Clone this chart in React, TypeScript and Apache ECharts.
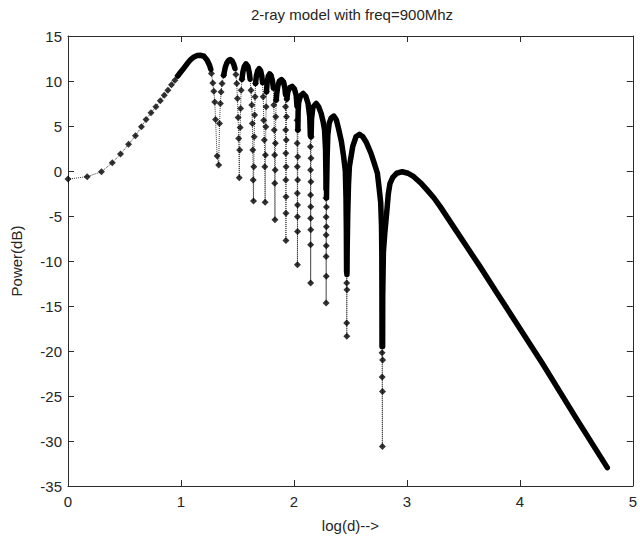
import React, { useEffect, useRef } from "react";
import * as echarts from "echarts";

// ---- data (x = log10(d), y = power in dB) ----
const xTickValues = [0, 1, 2, 3, 4, 5];
const yTickValues = [-35, -30, -25, -20, -15, -10, -5, 0, 5, 10, 15];

const titleText = "2-ray model with freq=900Mhz";
const xAxisTitle = "log(d)-->";
const yAxisTitle = "Power(dB)";

// individual markers on the initial rise
const riseMarks = [
  [0, -0.9], [0.17, -0.63], [0.296, -0.08], [0.392, 0.92], [0.465, 1.88], [0.536, 2.96],
  [0.597, 3.91], [0.65, 4.91], [0.691, 5.73], [0.735, 6.46], [0.778, 7.13], [0.817, 7.8],
  [0.852, 8.43], [0.884, 8.98], [0.916, 9.57], [0.946, 10.09], [0.972, 10.57],
];

// lobe tops where the markers merge into a solid trace
const lobeArcs = [
  [[0.972, 10.57], [0.998, 11.0], [1.027, 11.45], [1.056, 11.94], [1.086, 12.38], [1.115, 12.67], [1.144, 12.83], [1.174, 12.86], [1.203, 12.75], [1.232, 12.31], [1.253, 11.75], [1.264, 11.3]],
  [[1.378, 10.64], [1.393, 11.56], [1.408, 12.05], [1.422, 12.3], [1.437, 12.38], [1.452, 12.25], [1.466, 11.9], [1.478, 11.39]],
  [[1.54, 10.2], [1.548, 11.0], [1.56, 11.6], [1.576, 11.9], [1.592, 11.65], [1.604, 11.0], [1.612, 10.2]],
  [[1.66, 9.72], [1.668, 10.6], [1.679, 11.15], [1.692, 11.36], [1.705, 11.15], [1.715, 10.6], [1.722, 9.8]],
  [[1.757, 8.8], [1.763, 9.9], [1.773, 10.55], [1.785, 10.8], [1.798, 10.6], [1.81, 10.0], [1.818, 9.2]],
  [[1.843, 7.9], [1.848, 8.6], [1.858, 9.5], [1.872, 10.0], [1.89, 10.15], [1.908, 9.9], [1.92, 9.2], [1.925, 8.5]],
  [[1.937, 8.0], [1.946, 8.8], [1.962, 9.25], [1.984, 9.4], [2.005, 9.1], [2.02, 8.4], [2.027, 7.2]],
  [[2.035, 4.55], [2.037, 6.6], [2.042, 7.6], [2.058, 8.35], [2.081, 8.61], [2.105, 8.3], [2.125, 7.5], [2.14, 6.0], [2.145, 4.0]],
  [[2.152, 3.8], [2.156, 5.8], [2.168, 7.1], [2.198, 7.5], [2.22, 7.1], [2.241, 6.4], [2.258, 5.5], [2.271, 4.55], [2.28, 2.33], [2.283, -0.5], [2.284, -2.0]],
  [[2.288, -3.0], [2.29, -1.5], [2.294, 1.5], [2.3, 4.0], [2.312, 5.3], [2.33, 5.9], [2.353, 6.1], [2.375, 5.7], [2.395, 4.7], [2.42, 3.3], [2.44, 1.6], [2.455, 0.0], [2.461, -3.0], [2.464, -6.5], [2.466, -11.2]],
  [[2.469, -11.5], [2.471, -9.0], [2.476, -5.0], [2.483, -1.5], [2.491, 0.48], [2.52, 2.7], [2.549, 3.8], [2.579, 4.07], [2.61, 3.8], [2.64, 3.2], [2.681, 2.0], [2.71, 0.9], [2.739, -0.25], [2.755, -2.0], [2.768, -3.5], [2.775, -6.0], [2.778, -9.0], [2.779, -14.0], [2.78, -19.5]],
  [[2.785, -19.5], [2.786, -14.0], [2.792, -9.0], [2.805, -6.8], [2.822, -4.5], [2.835, -2.6], [2.85, -1.4], [2.875, -0.7], [2.91, -0.25], [2.959, -0.08], [3.01, -0.25], [3.061, -0.63], [3.12, -1.3], [3.178, -2.1], [3.24, -3.0], [3.295, -3.96], [3.412, -6.18], [3.529, -8.4], [3.646, -10.6], [3.8, -13.6], [4.0, -17.5], [4.2, -21.4], [4.495, -27.4], [4.774, -32.96]],
];

// separate markers down each null (descending side, bottom, rising side)
const nullMarks = [
  [[1.27, 10.83], [1.282, 9.79], [1.291, 8.87], [1.299, 7.68], [1.306, 5.73], [1.32, 1.66], [1.334, 0.66], [1.341, 5.28], [1.349, 7.5], [1.355, 8.79], [1.364, 9.72], [1.378, 10.64]],
  [[1.486, 10.72], [1.494, 9.72], [1.5, 8.06], [1.506, 5.95], [1.511, 3.62], [1.516, -0.74], [1.52, 2.33], [1.524, 4.84], [1.528, 6.95], [1.533, 8.98], [1.54, 10.2]],
  [[1.62, 8.98], [1.627, 7.32], [1.632, 5.29], [1.636, 2.33], [1.639, -1.0], [1.642, -3.33], [1.645, 0.48], [1.648, 3.8], [1.652, 6.21], [1.656, 8.24], [1.66, 9.72]],
  [[1.728, 8.24], [1.733, 5.65], [1.738, 3.44], [1.742, 0.48], [1.745, -3.47], [1.748, 1.77], [1.751, 4.91], [1.754, 7.13], [1.757, 8.8]],
  [[1.822, 7.32], [1.826, 4.55], [1.829, 1.77], [1.83, -1.36], [1.832, -5.43], [1.834, 0.11], [1.836, 3.07], [1.839, 6.02], [1.843, 7.9]],
  [[1.926, 7.13], [1.927, 4.55], [1.928, 1.96], [1.928, -1.0], [1.929, -4.69], [1.929, -7.73], [1.93, -2.85], [1.931, 0.48], [1.932, 3.44], [1.934, 6.02], [1.937, 8.0]],
  [[2.028, 5.65], [2.029, 3.07], [2.03, 0.48], [2.03, -2.47], [2.031, -5.07], [2.031, -10.42], [2.032, -6.73], [2.032, -3.77], [2.033, -1.0], [2.034, 1.59], [2.035, 4.55]],
  [[2.146, 2.69], [2.147, 0.11], [2.147, -2.66], [2.148, -5.24], [2.148, -8.2], [2.148, -12.45], [2.149, -6.54], [2.149, -3.96], [2.15, -1.19], [2.151, 1.41], [2.152, 3.8]],
  [[2.284, -3.0], [2.285, -5.1], [2.285, -7.1], [2.285, -9.5], [2.285, -14.67], [2.286, -11.7], [2.286, -8.3], [2.287, -6.2], [2.288, -4.0]],
  [[2.467, -12.45], [2.467, -16.9], [2.468, -18.37], [2.469, -13.2]],
  [[2.78, -20.2], [2.781, -22.9], [2.783, -30.6], [2.784, -24.5], [2.785, -21.0]],
];

const FONT = "'Liberation Sans', Arial, Helvetica, sans-serif";
const AXIS_COLOR = "#2b2b2b";
const TEXT_COLOR = "#262626";

export default function App() {
  const ref = useRef<HTMLDivElement>(null);

  useEffect(() => {
    if (!ref.current) return;
    const chart = echarts.init(ref.current, undefined, { renderer: "svg" });

    // full ordered trace: rise, lobe 1, null 1, lobe 2, ..., lobe 12
    const trace: number[][] = [...riseMarks];
    lobeArcs.forEach((arc, i) => {
      trace.push(...arc);
      if (nullMarks[i]) trace.push(...nullMarks[i]);
    });
    const marks = [...riseMarks, ...nullMarks.flat()];

    const xMin = xTickValues[0];
    const xMax = xTickValues[xTickValues.length - 1];
    const xInt = xTickValues[1] - xTickValues[0];
    const yMin = yTickValues[0];
    const yMax = yTickValues[yTickValues.length - 1];
    const yInt = yTickValues[1] - yTickValues[0];

    const baseAxis = {
      type: "value" as const,
      axisLine: { show: true, onZero: false, lineStyle: { color: AXIS_COLOR, width: 1 } },
      axisTick: { show: true, inside: true, length: 6, lineStyle: { color: AXIS_COLOR } },
      splitLine: { show: false },
    };

    chart.setOption({
      animation: false,
      backgroundColor: "#ffffff",
      grid: { left: 68, right: 2, top: 36, bottom: 51, containLabel: false },
      graphic: [
        {
          type: "text",
          x: 352,
          y: 14,
          style: {
            text: titleText,
            fill: TEXT_COLOR,
            font: `15px ${FONT}`,
            textAlign: "center",
            textVerticalAlign: "middle",
          },
        },
      ],
      xAxis: [
        {
          ...baseAxis,
          position: "bottom",
          min: xMin,
          max: xMax,
          interval: xInt,
          axisLabel: {
            show: true,
            fontSize: 15,
            fontFamily: FONT,
            color: TEXT_COLOR,
            margin: 8,
            showMinLabel: true,
            showMaxLabel: true,
          },
          name: xAxisTitle,
          nameLocation: "middle",
          nameGap: 32,
          nameTextStyle: { fontSize: 15, fontFamily: FONT, color: TEXT_COLOR },
        },
        {
          ...baseAxis,
          position: "top",
          min: xMin,
          max: xMax,
          interval: xInt,
          axisLabel: { show: false },
        },
      ],
      yAxis: [
        {
          ...baseAxis,
          position: "left",
          min: yMin,
          max: yMax,
          interval: yInt,
          axisLabel: {
            show: true,
            fontSize: 15,
            fontFamily: FONT,
            color: TEXT_COLOR,
            margin: 6,
          },
          name: yAxisTitle,
          nameLocation: "middle",
          nameGap: 44,
          nameRotate: 90,
          nameTextStyle: { fontSize: 15, fontFamily: FONT, color: TEXT_COLOR },
        },
        {
          ...baseAxis,
          position: "right",
          min: yMin,
          max: yMax,
          interval: yInt,
          axisLabel: { show: false },
        },
      ],
      series: [
        {
          type: "line",
          data: trace,
          symbol: "none",
          showSymbol: false,
          silent: true,
          lineStyle: { type: "dotted", width: 1, color: "#3a3a3a" },
          z: 1,
        },
        ...lobeArcs.map((arc) => ({
          type: "line",
          data: arc,
          symbol: "none",
          showSymbol: false,
          silent: true,
          lineStyle: { width: 5.5, color: "#000000", cap: "round", join: "round" },
          z: 2,
        })),
        {
          type: "scatter",
          data: marks,
          symbol: "diamond",
          symbolSize: 7,
          silent: true,
          itemStyle: { color: "#000000" },
          z: 3,
        },
      ],
    });

    return () => chart.dispose();
  }, []);

  return (
    <div
      ref={ref}
      style={{ position: "absolute", left: 0, top: 0, width: 640, height: 538, background: "#fff" }}
    />
  );
}
